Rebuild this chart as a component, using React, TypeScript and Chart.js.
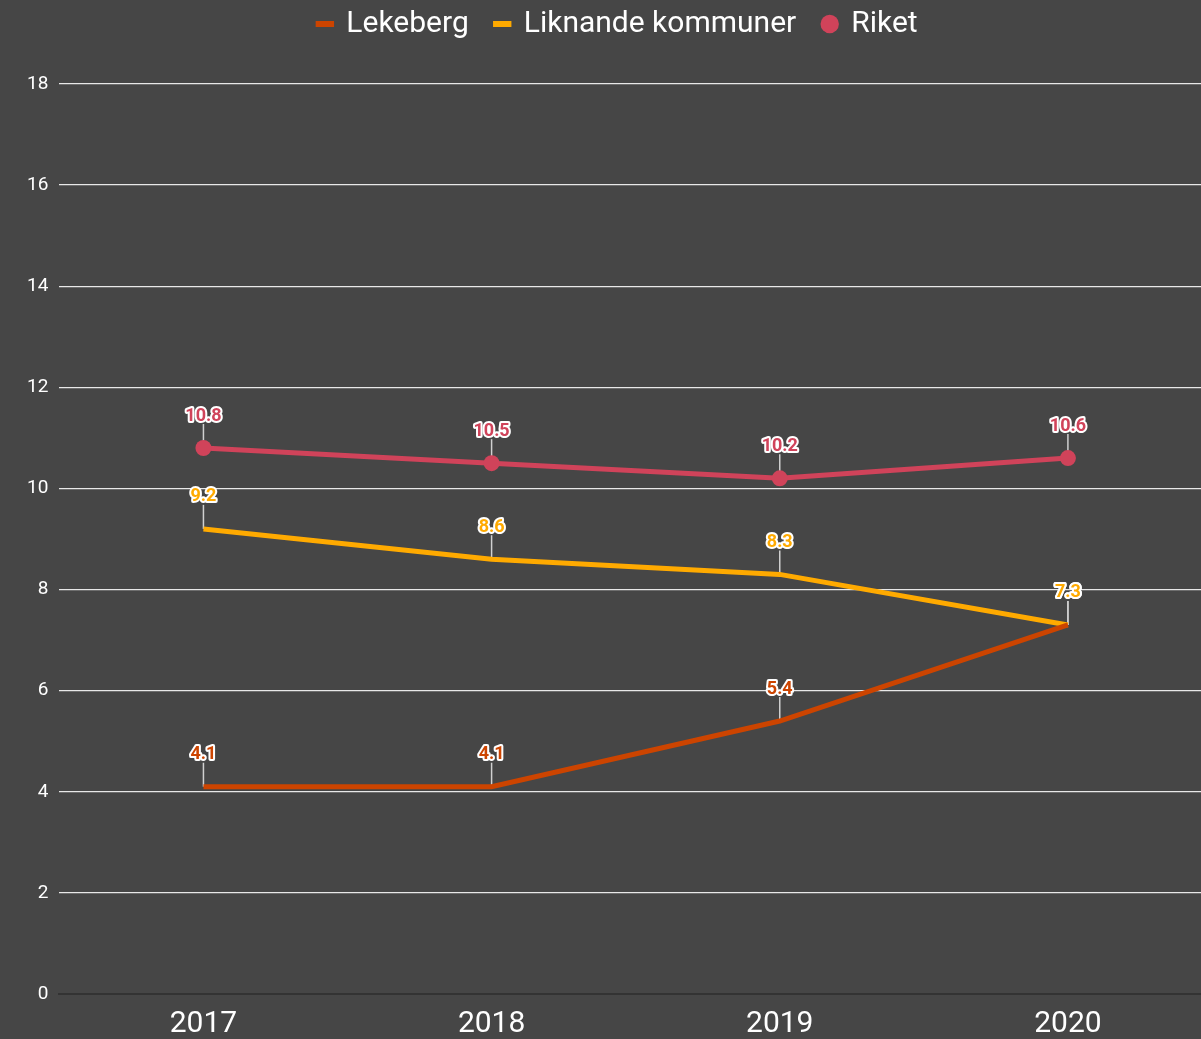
import React, { useEffect, useRef } from "react";
import { Chart, registerables } from "chart.js";

Chart.register(...registerables);

const categories = ["2017", "2018", "2019", "2020"];
const lekeberg = [4.1, 4.1, 5.4, 7.3];
const liknande = [9.2, 8.6, 8.3, 7.3];
const riket = [10.8, 10.5, 10.2, 10.6];
const yTicks = [0, 2, 4, 6, 8, 10, 12, 14, 16, 18];

const COL_LEK = "#cc4400";
const COL_LIK = "#ffaa00";
const COL_RIK = "#d0435a";

const labelPlugin = {
  id: "valueLabels",
  beforeInit(chart: any) {
    const lg = chart.legend;
    if (lg) {
      const orig = lg.fit;
      lg.fit = function () {
        orig.call(this);
        this.height = 102;
      };
    }
  },
  beforeDatasetsDraw(chart: any) {
    const ctx = chart.ctx;
    ctx.save();
    ctx.strokeStyle = "#d0d0d0";
    ctx.lineWidth = 1.5;
    chart.data.datasets.forEach((ds: any, i: number) => {
      const meta = chart.getDatasetMeta(i);
      meta.data.forEach((pt: any) => {
        ctx.beginPath();
        ctx.moveTo(pt.x, pt.y);
        ctx.lineTo(pt.x, pt.y - 24);
        ctx.stroke();
      });
    });
    ctx.restore();
  },
  afterDatasetsDraw(chart: any) {
    const ctx = chart.ctx;
    ctx.save();
    ctx.font = "bold 18px Roboto";
    ctx.textAlign = "center";
    ctx.textBaseline = "middle";
    ctx.lineJoin = "round";
    chart.data.datasets.forEach((ds: any, i: number) => {
      const meta = chart.getDatasetMeta(i);
      meta.data.forEach((pt: any, j: number) => {
        const txt = String(ds.data[j]);
        const y = pt.y - 32;
        ctx.strokeStyle = "#ffffff";
        ctx.lineWidth = 4;
        ctx.strokeText(txt, pt.x, y);
        ctx.fillStyle = ds.borderColor;
        ctx.fillText(txt, pt.x, y);
      });
    });
    ctx.restore();
  },
};

export default function App() {
  const ref = useRef<HTMLCanvasElement>(null);
  useEffect(() => {
    if (!ref.current) return;
    const chart = new Chart(ref.current, {
      type: "line",
      data: {
        labels: categories,
        datasets: [
          {
            label: "Lekeberg",
            data: lekeberg,
            borderColor: COL_LEK,
            backgroundColor: COL_LEK,
            borderWidth: 5,
            pointRadius: 0,
            pointHoverRadius: 0,
            pointStyle: "line",
          },
          {
            label: "Liknande kommuner",
            data: liknande,
            borderColor: COL_LIK,
            backgroundColor: COL_LIK,
            borderWidth: 5,
            pointRadius: 0,
            pointHoverRadius: 0,
            pointStyle: "line",
          },
          {
            label: "Riket",
            data: riket,
            borderColor: COL_RIK,
            backgroundColor: COL_RIK,
            borderWidth: 5,
            pointRadius: 8,
            pointBorderWidth: 0,
            pointStyle: "circle",
          },
        ],
      },
      options: {
        animation: false,
        responsive: false,
        layout: { padding: { left: 16, right: 0, top: -18, bottom: 0 } },
        plugins: {
          tooltip: { enabled: false },
          legend: {
            position: "top",
            labels: {
              color: "#ffffff",
              font: { family: "Roboto", size: 30 },
              usePointStyle: true,
              boxWidth: 13,
              boxHeight: 13,
              padding: 27,
              generateLabels(chart: any) {
                return chart.data.datasets.map((ds: any, i: number) => ({
                  text: ds.label,
                  fillStyle: ds.backgroundColor,
                  strokeStyle: ds.borderColor,
                  lineWidth: ds.pointStyle === "line" ? 6 : 0,
                  pointStyle: ds.pointStyle,
                  datasetIndex: i,
                  hidden: false,
                  fontColor: "#ffffff",
                }));
              },
            },
          },
        },
        scales: {
          x: {
            offset: true,
            grid: { display: false, drawTicks: false },
            border: { display: true, color: "#333333", width: 2 },
            ticks: {
              color: "#ffffff",
              font: { family: "Roboto", size: 30 },
              padding: 12,
            },
          },
          y: {
            min: 0,
            max: 18,
            afterBuildTicks(scale: any) {
              scale.ticks = yTicks.map((v) => ({ value: v }));
            },
            grid: {
              drawTicks: false,
              color: (c: any) => (c.tick && c.tick.value === 0 ? "rgba(0,0,0,0)" : "#e8e8e8"),
              lineWidth: 1.3,
            },
            border: { display: false },
            ticks: {
              color: "#ffffff",
              font: { family: "Roboto", size: 19 },
              padding: 11,
            },
          },
        },
      },
      plugins: [labelPlugin],
    });
    return () => chart.destroy();
  }, []);
  return (
    <div
      style={{
        position: "fixed",
        left: 0,
        top: 0,
        width: 1201,
        height: 1039,
        overflow: "hidden",
        background: "#464646",
      }}
    >
      <canvas ref={ref} width={1220} height={1054} style={{ display: "block" }} />
    </div>
  );
}
